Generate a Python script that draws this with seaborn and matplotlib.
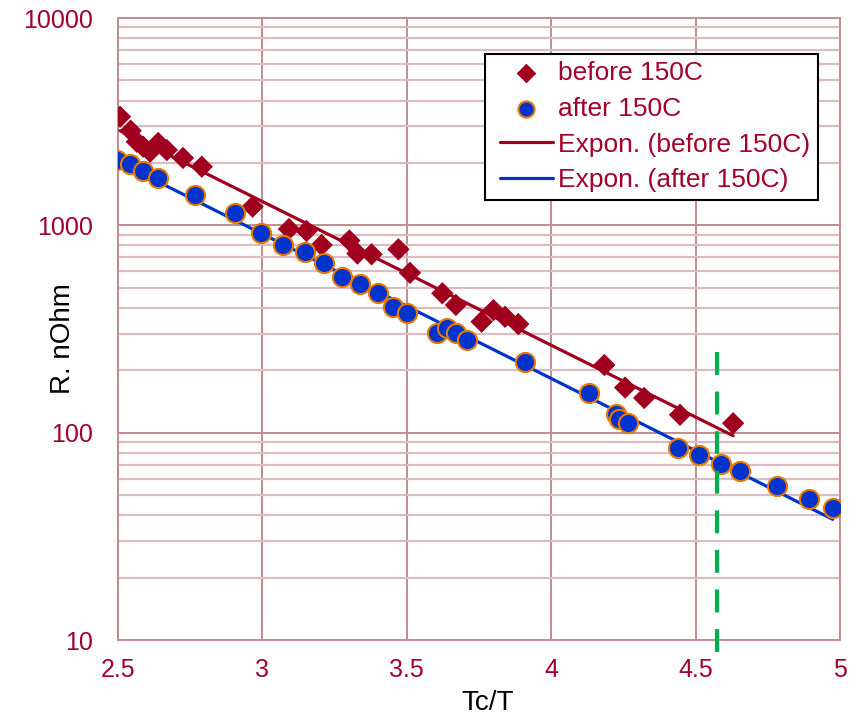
import numpy as np
import pandas as pd
import matplotlib
matplotlib.use("Agg")
import matplotlib.pyplot as plt
from matplotlib.ticker import LogLocator, FixedLocator, NullFormatter
from matplotlib.lines import Line2D
from matplotlib.legend_handler import HandlerLine2D, HandlerPathCollection
import seaborn as sns

# Resistance vs reduced inverse temperature, before the 150C step
tc_t_before = [2.507, 2.544, 2.565, 2.587, 2.611, 2.639, 2.669, 2.725, 2.790,
               2.966, 3.092, 3.153, 3.205, 3.301, 3.329, 3.378, 3.471, 3.511,
               3.623, 3.670, 3.759, 3.800, 3.840, 3.886, 4.184, 4.256, 4.322,
               4.446, 4.630]
r_before = [3340, 2860, 2530, 2395, 2265, 2495, 2307, 2113, 1918,
            1230, 960, 939, 803, 845, 731, 725, 766, 590,
            470, 413, 343, 390, 362, 334, 212, 165, 147,
            122, 111]

# ... and after the 150C step
tc_t_after = [2.496, 2.542, 2.588, 2.640, 2.767, 2.905, 2.995, 3.072, 3.149,
              3.214, 3.275, 3.339, 3.401, 3.453, 3.502, 3.604, 3.638, 3.669,
              3.709, 3.909, 4.132, 4.224, 4.236, 4.267, 4.440, 4.513, 4.588,
              4.654, 4.783, 4.894, 4.975]
r_after = [2065, 1975, 1828, 1686, 1400, 1143, 915, 803, 746,
           660, 565, 519, 473, 402, 379, 301, 318, 301,
           279, 220, 156, 123, 117, 111, 84, 78, 71,
           65, 55.5, 47.7, 43.2]

# Marker for the limit position
limit_x = 4.575
limit_span = [8.75, 265]

x_ticks = [2.5, 3, 3.5, 4, 4.5, 5]
x_tick_labels = ["2.5", "3", "3.5", "4", "4.5", "5"]
y_ticks = [10, 100, 1000, 10000]
y_tick_labels = ["10", "100", "1000", "10000"]

DARK_RED = "#a0001e"
BLUE = "#0033cc"
ORANGE = "#e87800"
GREEN = "#00b050"
GRID_MAJOR = "#c28c93"
GRID_MINOR = "#dbbcc0"
TEXT_RED = "#a3002a"

sns.set_style("white")
plt.rcParams["font.family"] = ["Liberation Sans", "DejaVu Sans"]

fig = plt.figure(figsize=(8.58, 7.15), dpi=100)
ax = fig.add_axes([118 / 858, 1 - 640 / 715, 722 / 858, 622 / 715])

before = pd.DataFrame({"x": tc_t_before, "r": r_before})
after = pd.DataFrame({"x": tc_t_after, "r": r_after})


def exp_fit(df):
    k, b = np.polyfit(df["x"], np.log(df["r"]), 1)
    xs = np.linspace(df["x"].min(), df["x"].max(), 100)
    return pd.DataFrame({"x": xs, "r": np.exp(b + k * xs)})


fit_before = exp_fit(before)
fit_after = exp_fit(after)

ax.set_yscale("log")
ax.set_xlim(2.5, 5)
ax.set_ylim(10, 10000)

sns.lineplot(data=fit_before, x="x", y="r", ax=ax, color=DARK_RED, lw=2.3,
             label="Expon. (before 150C)", zorder=3)
sns.lineplot(data=fit_after, x="x", y="r", ax=ax, color=BLUE, lw=2.3,
             label="Expon. (after 150C)", zorder=3)
sns.scatterplot(data=before, x="x", y="r", ax=ax, marker="D", s=130,
                color=DARK_RED, edgecolor="none", label="before 150C", zorder=4)
sns.scatterplot(data=after, x="x", y="r", ax=ax, marker="o", s=190,
                color=BLUE, edgecolor=ORANGE, linewidth=1.5,
                label="after 150C", zorder=5)

ax.plot([limit_x, limit_x], limit_span, color=GREEN, lw=3,
        dashes=(5.5, 4), clip_on=False, zorder=6)

# Axes, ticks and grid
ax.xaxis.set_major_locator(FixedLocator(x_ticks))
ax.set_xticklabels(x_tick_labels)
ax.yaxis.set_major_locator(FixedLocator(y_ticks))
ax.set_yticklabels(y_tick_labels)
ax.yaxis.set_minor_locator(LogLocator(base=10, subs=np.arange(2, 10)))
ax.yaxis.set_minor_formatter(NullFormatter())

ax.grid(True, which="major", axis="both", color=GRID_MAJOR, lw=1.4, zorder=0)
ax.grid(True, which="minor", axis="y", color=GRID_MINOR, lw=1.6, zorder=0)
ax.set_axisbelow(True)

ax.tick_params(axis="both", which="major", direction="out", length=8,
               width=1.4, color=GRID_MAJOR, labelsize=18, labelcolor=TEXT_RED)
ax.tick_params(axis="x", pad=5)
ax.tick_params(axis="y", pad=10)
ax.tick_params(axis="y", which="minor", length=0)

for side in ["left", "bottom", "top", "right"]:
    ax.spines[side].set_color(GRID_MAJOR)
    ax.spines[side].set_linewidth(1.4)

ax.set_xlabel("Tc/T", fontsize=20, color="black")
ax.set_ylabel("R. nOhm", fontsize=20, color="black")
ax.xaxis.set_label_coords(0.512, -0.080)
ax.yaxis.set_label_coords(-0.058, 0.484)

# Legend: point series first, then the fitted curves
handles, labels = ax.get_legend_handles_labels()
order = ["before 150C", "after 150C", "Expon. (before 150C)", "Expon. (after 150C)"]
hmap = dict(zip(labels, handles))
leg_handles = [hmap[l] for l in order]
leg = ax.legend(leg_handles, order, loc="upper left",
                bbox_to_anchor=(0.508, 0.942), borderaxespad=0, fontsize=19,
                frameon=True, fancybox=False, framealpha=1, edgecolor="black",
                handlelength=2.3, handletextpad=0.2, labelspacing=0.44,
                borderpad=0.28,
                handler_map={
                    Line2D: HandlerLine2D(xpad=0.3),
                    leg_handles[0]: HandlerPathCollection(xpad=0.3, sizes=[100]),
                    leg_handles[1]: HandlerPathCollection(xpad=0.3, sizes=[135]),
                })
leg.get_frame().set_linewidth(1.5)
for t in leg.get_texts():
    t.set_color(TEXT_RED)

fig.savefig("out.png", dpi=100)
